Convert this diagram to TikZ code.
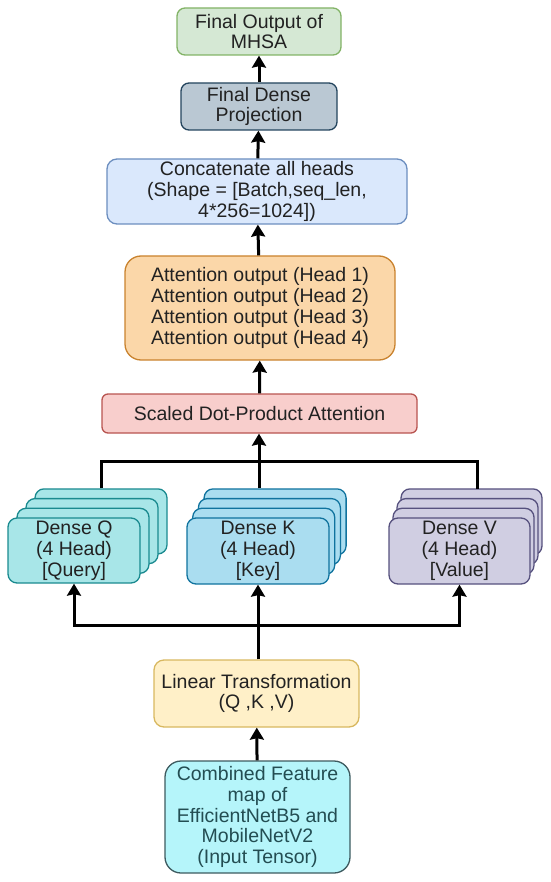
\documentclass[tikz,border=0pt]{standalone}
\usepackage{fontspec}
\setmainfont{Liberation Sans}
\usetikzlibrary{arrows.meta,positioning,calc}
\definecolor{Ink}{HTML}{222222}
\definecolor{Green}{HTML}{D5E8D4}
\definecolor{GreenLine}{HTML}{82B366}
\definecolor{Slate}{HTML}{BAC8D3}
\definecolor{SlateLine}{HTML}{23445D}
\definecolor{Blue}{HTML}{DAE8FC}
\definecolor{BlueLine}{HTML}{6C8EBF}
\definecolor{Orange}{HTML}{FBD7A9}
\definecolor{OrangeLine}{HTML}{C9822E}
\definecolor{Red}{HTML}{F8CECC}
\definecolor{RedLine}{HTML}{B85450}
\definecolor{Teal}{HTML}{A8E6E8}
\definecolor{TealLine}{HTML}{1A8A8F}
\definecolor{Sky}{HTML}{AADDF0}
\definecolor{SkyLine}{HTML}{10739E}
\definecolor{Purple}{HTML}{D0CEE2}
\definecolor{PurpleLine}{HTML}{56517E}
\definecolor{Yellow}{HTML}{FFF0C8}
\definecolor{YellowLine}{HTML}{D8B860}
\definecolor{Cyan}{HTML}{B5F5FA}
\definecolor{CyanLine}{HTML}{3D5A5F}
\definecolor{CyanInk}{HTML}{234D52}
\tikzset{
  box/.style={rounded corners=8pt,line width=1.3pt,align=center,inner sep=2pt,
    font=\fontsize{19.5}{20.8}\selectfont,text=Ink},
  outbox/.style={box,draw=GreenLine,fill=Green,minimum width=164pt,minimum height=47pt},
  projbox/.style={box,draw=SlateLine,fill=Slate,minimum width=156pt,minimum height=47pt},
  catbox/.style={box,rounded corners=10pt,draw=BlueLine,fill=Blue,minimum width=300pt,minimum height=65pt},
  attbox/.style={box,rounded corners=16pt,draw=OrangeLine,fill=Orange,minimum width=270pt,minimum height=104pt},
  sdpabox/.style={box,rounded corners=6pt,draw=RedLine,fill=Red,minimum width=315pt,minimum height=39pt},
  qbox/.style={box,rounded corners=9pt,draw=TealLine,fill=Teal,minimum width=132pt,minimum height=65pt},
  kbox/.style={box,rounded corners=9pt,draw=SkyLine,fill=Sky,minimum width=142pt,minimum height=66pt},
  vbox/.style={box,rounded corners=9pt,draw=PurpleLine,fill=Purple,minimum width=141pt,minimum height=66pt},
  linbox/.style={box,rounded corners=10pt,draw=YellowLine,fill=Yellow,minimum width=205pt,minimum height=67pt},
  inbox/.style={box,rounded corners=16pt,draw=CyanLine,fill=Cyan,text=CyanInk,minimum width=185pt,minimum height=112pt},
  arrow/.style={-{Stealth[length=12pt,width=14pt,inset=1.5pt]},line width=3pt},
  wire/.style={line width=3pt}
}
\begin{document}
\begin{tikzpicture}[x=1pt,y=-1pt]
  \useasboundingbox (0,0) rectangle (550,882);
  \node[outbox] (out) at (259,31.5) {Final Output of\\MHSA};
  \node[projbox] (proj) at (259,106.5) {Final Dense\\Projection};
  \node[catbox] (cat) at (257,191.5) {Concatenate all heads\\(Shape = [Batch,seq\_len,\\4*256=1024])};
  \node[attbox] (att) at (260,308) {Attention output (Head 1)\\Attention output (Head 2)\\Attention output (Head 3)\\Attention output (Head 4)};
  \node[sdpabox] (sdpa) at (259.5,413.5) {Scaled Dot-Product Attention};
  % stacked heads
  \foreach \i in {3,2,1} {
    \node[qbox] (q\i) at ({74+9*\i},{550.5-9.7*\i}) {};
    \node[kbox] (k\i) at ({258+5.7*\i},{551-9.7*\i}) {};
    \node[vbox] (v\i) at ({459.5+4*\i},{551-9.7*\i}) {};
  }
  \node[qbox] (q0) at (74,550.5) {Dense Q\\(4 Head)\\{[Query]}};
  \node[kbox] (k0) at (258,551) {Dense K\\(4 Head)\\{[Key]}};
  \node[vbox] (v0) at (459.5,551) {Dense V\\(4 Head)\\{[Value]}};
  \node[linbox] (lin) at (256.5,693.5) {Linear Transformation\\(Q ,K ,V)};
  \node[inbox] (inp) at (257.5,817) {Combined Feature\\map of\\EfficientNetB5 and\\MobileNetV2\\(Input Tensor)};
  \coordinate (bustop) at (259,461);
  \coordinate (busbot) at (258,625);
  \coordinate (vtop) at (477,489);
  \draw[arrow] (inp) -- (lin);
  \draw[wire] (lin.north -| busbot) -- (busbot);
  \draw[arrow] (busbot) -| (q0.south);
  \draw[arrow] (busbot) -| (v0.south);
  \draw[arrow] (busbot) -- (k0.south -| busbot);
  \draw[wire] (q3.north) |- (bustop) -| (vtop);
  \draw[arrow] (k3.north -| bustop) -- (sdpa.south -| bustop);
  \draw[arrow] (sdpa) -- (att);
  \draw[arrow] (att) -- (cat);
  \draw[arrow] (cat) -- (proj);
  \draw[arrow] (proj) -- (out);
\end{tikzpicture}
\end{document}
